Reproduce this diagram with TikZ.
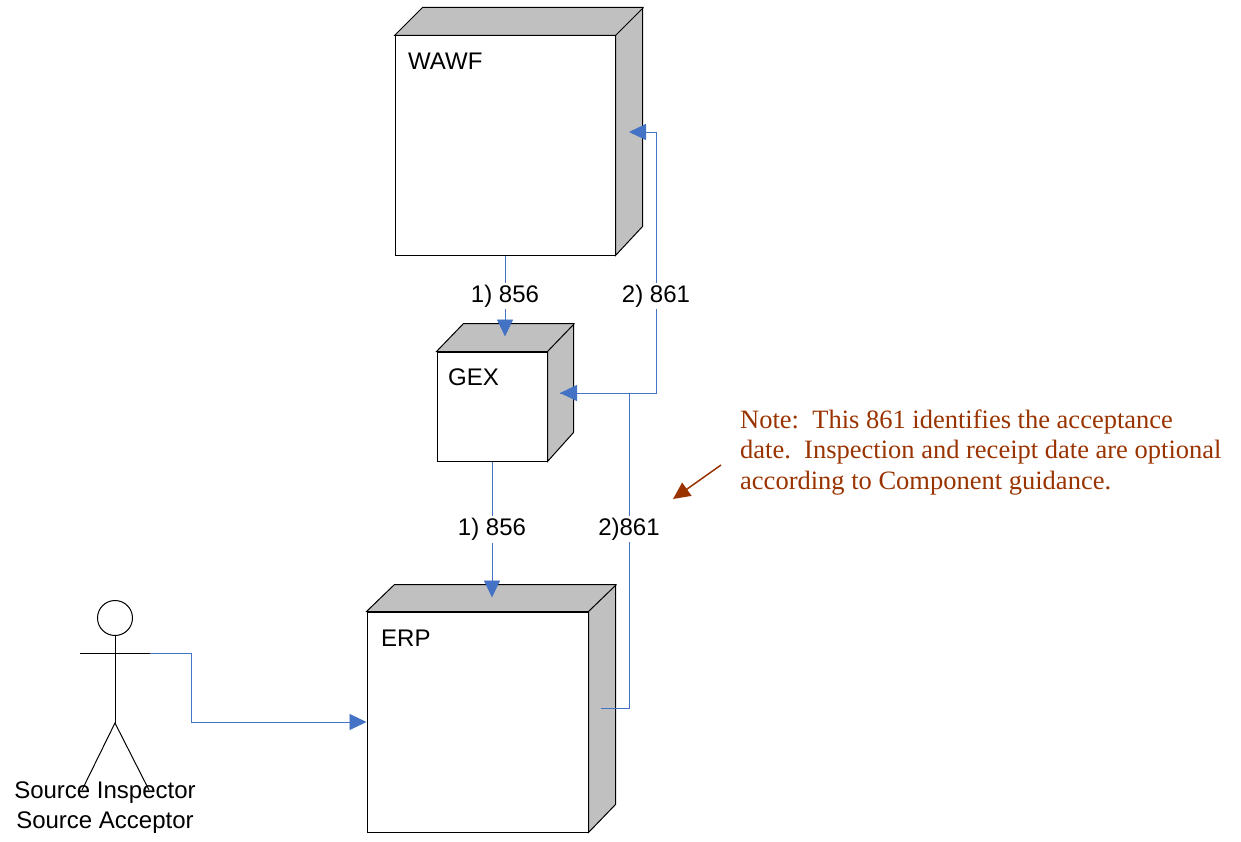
\documentclass[tikz,border=0pt]{standalone}
\usepackage{fontspec}
\setmainfont{Liberation Serif}
\newfontfamily\arialfont{Liberation Sans}
\usetikzlibrary{arrows.meta,calc}
\definecolor{conncol}{RGB}{68,114,196}
\definecolor{notecol}{RGB}{153,51,0}
\definecolor{sidegray}{RGB}{192,192,192}
\tikzset{
  boxface/.style={draw=black,fill=white,line width=1pt,inner sep=0pt},
  sideface/.style={draw=black,fill=sidegray,line width=1pt,line join=miter},
  conn/.style={draw=conncol,line width=0.9pt,-{Triangle[length=17pt,width=16pt]}},
  lbl/.style={fill=white,inner sep=2pt,font=\arialfont\fontsize{24}{28}\selectfont},
  boxtitle/.style={anchor=west,inner sep=0pt,font=\arialfont\fontsize{24}{28}\selectfont},
  actorline/.style={draw=black,line width=1pt},
}
\begin{document}
\begin{tikzpicture}[x=1pt,y=-1pt]
\useasboundingbox (0,0) rectangle (1241,842);
% ---- WAWF ----
\node[boxface,minimum width=220pt,minimum height=219pt] (wawf) at (505,145.5) {};
\filldraw[sideface] (wawf.north west) -- ++(28,-28) -- ++(220,0) -- ++(0,219) -- (wawf.south east) -- (wawf.north east) -- cycle;
\draw[line width=1pt] (wawf.north east) -- ++(28,-28);
\node[boxtitle] (wawft) at (408,61) {WAWF};
% ---- GEX ----
\node[boxface,minimum width=110pt,minimum height=109pt] (gex) at (492,406.5) {};
\filldraw[sideface] (gex.north west) -- ++(27,-28) -- ++(110,0) -- ++(0,109) -- (gex.south east) -- (gex.north east) -- cycle;
\draw[line width=1pt] (gex.north east) -- ++(27,-28);
\node[boxtitle] (gext) at (448,377) {GEX};
% ---- ERP ----
\node[boxface,minimum width=221pt,minimum height=220pt] (erp) at (477.5,722) {};
\filldraw[sideface] (erp.north west) -- ++(28,-27) -- ++(221,0) -- ++(0,220) -- (erp.south east) -- (erp.north east) -- cycle;
\draw[line width=1pt] (erp.north east) -- ++(28,-27);
\node[boxtitle] (erpt) at (381,638) {ERP};
% ---- ports ----
\coordinate (wawfin) at (629,132);
\coordinate (gexin) at (560,393);
\coordinate (erpout) at (601,708);
% ---- connectors ----
\draw[conn] (wawf.south) -- node[lbl,pos=0.5]{1) 856} ([yshift=15pt]gex.north -| wawf.south);
\draw[conn] (gex.south) -- node[lbl,pos=0.5]{1) 856} ([yshift=14pt]gex.south |- erp.north);
\draw[conn] (gexin) -- (656,393) |- node[lbl,pos=0.186]{2) 861} (wawfin);
\draw[conn] (erpout) -- (629,708) |- node[lbl,pos=0.284]{2)861} (gexin);
% ---- actor ----
\node[circle,draw=black,line width=1pt,minimum size=35pt,inner sep=0pt] (head) at (115,618) {};
\coordinate (armL) at (80,653);
\coordinate (armR) at (150,653);
\coordinate (hip) at (115,723);
\coordinate (footL) at (82,790);
\coordinate (footR) at (149,790);
\draw[actorline] (head.south) -- (hip);
\draw[actorline] (armL) -- (armR);
\draw[actorline] (footL) -- (hip) -- (footR);
\node[align=center,inner sep=0pt,font=\arialfont\fontsize{24}{30}\selectfont] (actorlbl) at (105,808) {Source Inspector\\Source Acceptor};
\draw[conn] (armR) -- (191,653) |- (erp.west);
% ---- note ----
\node[anchor=north west,inner sep=0pt,align=left,text=notecol,font=\fontsize{26.5}{30.5}\selectfont] (note) at (740,409.5) {Note:\ \ This 861 identifies the acceptance\\date.\ \ Inspection and receipt date are optional\\according to Component guidance.};
\coordinate (notefrom) at (721,465);
\coordinate (noteto) at (673,499);
\draw[draw=notecol,line width=1.5pt,-{Triangle[length=17pt,width=16pt]}] (notefrom) -- (noteto);
\end{tikzpicture}
\end{document}
